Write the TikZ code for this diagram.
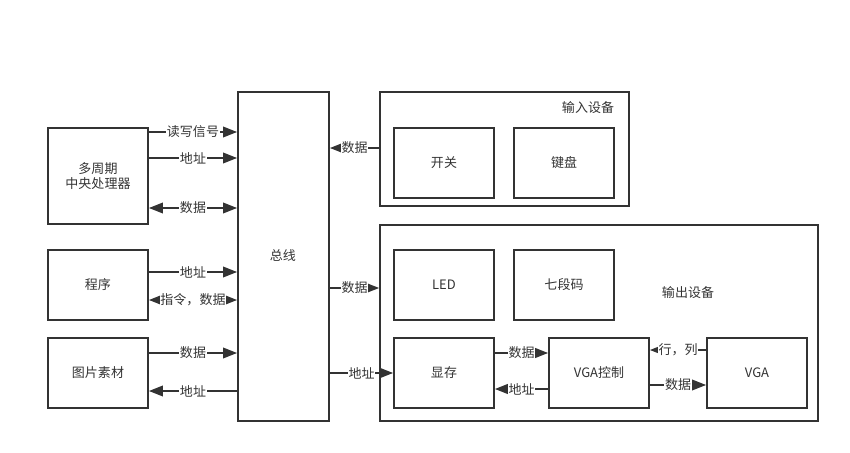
\documentclass[tikz,border=0pt]{standalone}
\usepackage{fontspec}
\newfontfamily\cjk{Noto Sans CJK SC}
\usetikzlibrary{arrows.meta}
\definecolor{dgray}{HTML}{333333}

\begin{document}
\begin{tikzpicture}[x=0.02cm,y=-0.02cm,line width=1pt,draw=dgray]
  \tikzset{M/.style={draw=dgray, minimum width=2cm, minimum height=1.4cm, text=dgray, font=\cjk\fontsize{7.4}{9}\selectfont, align=center}}
  \tikzset{G/.style={draw=dgray, inner sep=0pt}}
  \tikzset{T/.style={text=dgray, font=\cjk\fontsize{7.4}{9}\selectfont}}
  \tikzset{L/.style={T, fill=white, inner xsep=0.3pt, inner ysep=1pt}}
  \tikzset{A/.style={dgray, -{Triangle[length=8pt,width=6pt]}}}
  \tikzset{AA/.style={dgray, {Triangle[length=8pt,width=6pt]}-{Triangle[length=8pt,width=6pt]}}}
  \useasboundingbox (0,0) rectangle (850,453);

  % left side
  \node [M,minimum height=1.92cm] (cpu) at (98,176) {多周期\\中央处理器};
  \node [M] (prog) at (98,285) {程序};
  \node [M] (pic)  at (98,373) {图片素材};
  \node [M,minimum width=1.82cm,minimum height=6.58cm] (bus) at (283.5,256.5) {};
  \node [T] (busl) at (283,256) {总线};

  % input devices
  \node [G,minimum width=4.98cm,minimum height=2.28cm] (indev) at (504.5,149) {};
  \node [T] (indevl) at (588,108) {输入设备};
  \node [M] (sw)  at (444,163) {开关};
  \node [M] (kbd) at (564,163) {键盘};

  % output devices
  \node [G,minimum width=8.76cm,minimum height=3.92cm] (outdev) at (599,323) {};
  \node [T] (outdevl) at (688,293) {输出设备};
  \node [M] (led)    at (444,285) {LED};
  \node [M] (seg)    at (564,285) {七段码};
  \node [M] (vram)   at (444,373) {显存};
  \node [M] (vgactl) at (599,373) {VGA控制};
  \node [M] (vga)    at (757,373) {VGA};

  \foreach \from/\to/\y/\t in {cpu/bus/132/读写信号, cpu/bus/158/地址, prog/bus/272/地址,
      pic/bus/353/数据, bus/outdev/288/数据, bus/vram/373/地址, vram/vgactl/353/数据, vgactl/vga/385/数据}
    \draw [A] (\from.east |- 0,\y) -- node [L] {\t} (\to.west |- 0,\y);
  \foreach \from/\to/\y/\t in {bus/pic/391/地址, indev/bus/148/数据, vgactl/vram/389/地址, vga/vgactl/350/行，列}
    \draw [A] (\from.west |- 0,\y) -- node [L] {\t} (\to.east |- 0,\y);
  \foreach \from/\to/\y/\t in {cpu/bus/208/数据, prog/bus/300/指令，数据}
    \draw [AA] (\from.east |- 0,\y) -- node [L] {\t} (\to.west |- 0,\y);
\end{tikzpicture}
\end{document}
